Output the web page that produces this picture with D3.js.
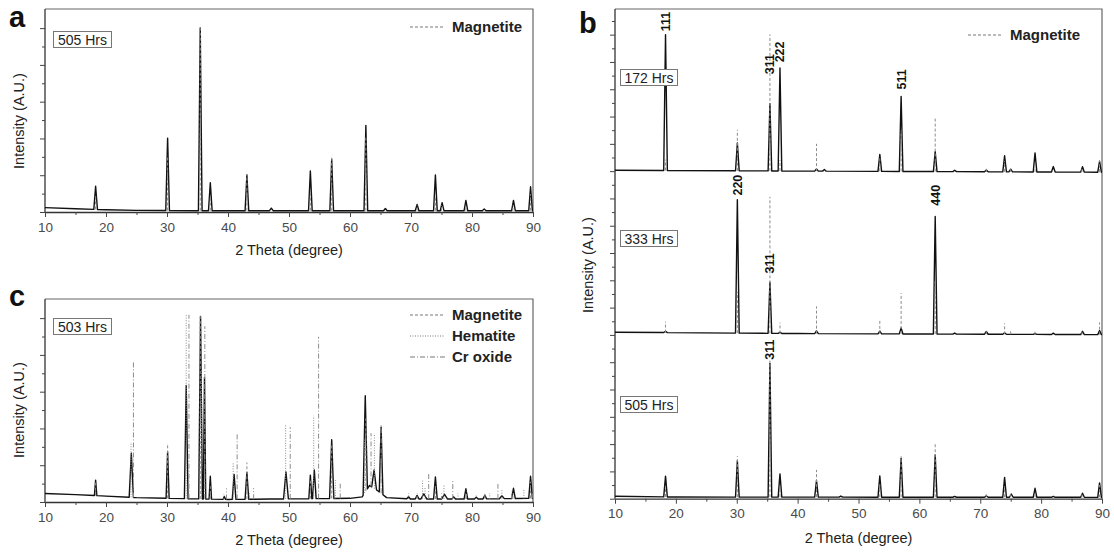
<!DOCTYPE html>
<html><head><meta charset="utf-8">
<script src="https://cdn.jsdelivr.net/npm/d3@7"></script>
<style>body{margin:0;background:#fff}svg text{font-family:"Liberation Sans",Arial,sans-serif}</style>
</head><body><svg id="chart" width="1114" height="552"></svg>
<script>
// ---------- shared ----------
const xTickValues = [10, 20, 30, 40, 50, 60, 70, 80, 90];
const xMinorValues = [15, 25, 35, 45, 55, 65, 75, 85];
const xTitle = "2 Theta (degree)";
const yTitle = "Intensity (A.U.)";

// reference patterns: [2theta, relative intensity %]
const magnetiteRef = [[18.3,8],[30.1,30],[35.45,100],[37.1,8],[43.1,20],[53.5,10],[57.0,30],[62.6,40],[71.0,3],[74.0,8],[75.0,3],[79.0,2],[86.7,3],[89.6,9]];
const hematiteRef = [[24.1,30],[33.15,100],[35.65,70],[39.3,3],[40.85,20],[43.5,4],[49.45,40],[54.05,45],[57.4,5],[57.6,10],[62.4,30],[64.0,30],[69.6,3],[71.9,10],[72.3,6],[75.4,8],[77.7,3],[80.7,2],[82.9,3],[84.9,5],[88.5,5]];
const crOxideRef = [[24.5,74],[33.6,100],[36.2,94],[39.75,6],[41.5,36],[44.2,6],[50.2,39],[54.85,88],[58.4,8],[63.45,29],[65.1,38],[72.9,14],[76.85,10],[79.1,4],[82.1,3],[84.25,8],[86.5,4],[89.95,6]];

// ---------- panel a : 505 Hrs ----------
const aBaseline = [[10,0.12],[15,0.09],[20,0.06],[25,0.045],[35,0.035],[90,0.035]];
const aPeaks = [[18.3,0.63],[30.1,1.97],[35.45,4.97],[37.1,0.76],[43.1,0.97],[47.1,0.07],[53.5,1.08],[57.0,1.40],[62.6,2.32],[65.8,0.06],[71.0,0.17],[74.0,0.97],[75.1,0.22],[79.0,0.28],[82.0,0.05],[86.8,0.28],[89.6,0.65]];

// ---------- panel b : 505 / 333 / 172 Hrs ----------
const bTraceNames = ["505 Hrs", "333 Hrs", "172 Hrs"];
const bOffsets = [0.05, 6.05, 11.98];
const b505Baseline = [[10,0.04],[20,0.01],[90,0]];
const b505Peaks = [[18.3,0.76],[30.1,1.33],[35.45,4.91],[37.1,0.85],[43.1,0.61],[47.1,0.04],[53.5,0.78],[57.0,1.43],[62.6,1.55],[65.8,0.03],[71.0,0.05],[74.0,0.73],[75.1,0.12],[79.0,0.33],[82.0,0.03],[86.8,0.15],[89.6,0.53]];
const b333Baseline = [[10,0.05],[40,0],[90,-0.04]];
const b333Peaks = [[18.3,0.05],[30.1,4.89],[35.45,1.87],[37.1,0.04],[43.1,0.1],[53.5,0.1],[57.0,0.22],[62.6,4.31],[65.8,0.04],[71.0,0.1],[74.0,0.05],[79.0,0.03],[82.0,0.05],[86.8,0.12],[89.6,0.15]];
const b172Baseline = [[10,0.05],[90,-0.02]];
const b172Peaks = [[18.3,4.98],[30.1,1.02],[35.45,2.46],[37.1,3.77],[43.1,0.08],[44.4,0.06],[53.5,0.62],[57.0,2.75],[62.6,0.73],[65.8,0.05],[71.0,0.06],[74.0,0.59],[75.0,0.1],[79.0,0.7],[82.0,0.2],[86.8,0.2],[89.6,0.4]];
// [trace index, hkl, 2theta, relative intensity at label foot]
const bPeakLabels = [[2,"111",18.3,5.1],[2,"311",35.45,3.54],[2,"222",37.1,3.98],[2,"511",57.0,3.0],[1,"220",30.15,5.04],[1,"311",35.45,2.19],[1,"440",62.6,4.7],[0,"311",35.45,5.03]];

// ---------- panel c : 503 Hrs ----------
const cBaseline = [[10,0.23],[15,0.2],[20,0.16],[25,0.12],[30,0.1],[40,0.07],[47,0.08],[60,0.1],[62.0,0.14],[63.2,0.45],[64.6,0.3],[66,0.12],[70,0.08],[80,0.08],[90,0.1]];
const cPeaks = [[18.3,0.42,0.2],[24.15,1.2,0.35],[30.1,1.26,0.25],[33.15,3.08,0.3],[35.5,4.96,0.3],[36.15,3.3,0.2],[37.1,0.62,0.2],[39.4,0.08,0.2],[41.0,0.68,0.3],[43.1,0.73,0.3],[49.5,0.73,0.4],[53.5,0.64,0.25],[54.15,0.78,0.3],[57.0,1.6,0.35],[62.5,2.62,0.35],[63.95,0.5,0.4],[65.1,1.8,0.3],[69.6,0.06,0.3],[71.0,0.1,0.3],[72.1,0.14,0.5],[74.0,0.6,0.3],[75.5,0.13,0.5],[77.0,0.06,0.3],[79.0,0.28,0.3],[80.7,0.05,0.3],[82.1,0.1,0.3],[84.9,0.08,0.4],[86.8,0.28,0.3],[89.6,0.6,0.3]];

// ---------- drawing ----------
const svg = d3.select("#chart");
const FONT = '"Liberation Sans", Arial, sans-serif';
const REF_SCALE = 5 / 100;
const refStyles = {
  magnetite: {dash: "3,2"},
  hematite: {dash: "1,1.5"},
  cr: {dash: "5,2,1,2"}
};

function makePanel(cfg) {
  const x = d3.scaleLinear().domain([10, 90]).range([cfg.left, cfg.right]);
  const y = d3.scaleLinear().domain([0, cfg.yMax]).range([cfg.bottom, cfg.top]);
  const g = svg.append("g");
  g.append("path")
    .attr("d", `M${cfg.left},${cfg.top}H${cfg.right}V${cfg.bottom}`)
    .attr("fill", "none").attr("stroke", "#666").attr("stroke-width", 1.2);
  const xa = g.append("g").attr("transform", `translate(0,${cfg.bottom})`)
    .call(d3.axisBottom(x).tickValues(xTickValues).tickSize(5).tickSizeOuter(0).tickPadding(5).tickFormat(d3.format("d")))
    .attr("font-family", FONT).attr("font-size", 13.5);
  xa.select(".domain").attr("stroke", "#333").attr("stroke-width", 1.3);
  xa.selectAll(".tick line").attr("stroke", "#444");
  xa.selectAll("text").attr("fill", "#4a4a4a");
  const xm = g.append("g").attr("transform", `translate(0,${cfg.bottom})`)
    .call(d3.axisBottom(x).tickValues(xMinorValues).tickSize(3).tickFormat(""));
  xm.select(".domain").remove();
  xm.selectAll(".tick line").attr("stroke", "#444");
  const ya = g.append("g").attr("transform", `translate(${cfg.left},0)`)
    .call(d3.axisLeft(y).tickValues(cfg.yMajor).tickSize(5).tickSizeOuter(0).tickFormat(""));
  ya.select(".domain").attr("stroke", "#333").attr("stroke-width", 1.3)
    .attr("d", `M0,${cfg.bottom}V${cfg.top}`);
  ya.selectAll(".tick line").attr("stroke", "#444");
  const ym = g.append("g").attr("transform", `translate(${cfg.left},0)`)
    .call(d3.axisLeft(y).tickValues(cfg.yMinor).tickSize(3).tickFormat(""));
  ym.select(".domain").remove();
  ym.selectAll(".tick line").attr("stroke", "#444");
  // titles
  g.append("text").attr("x", (cfg.left + cfg.right) / 2).attr("y", cfg.xTitleY)
    .attr("text-anchor", "middle").attr("font-size", 14.5).attr("fill", "#222").text(xTitle);
  g.append("text").attr("transform", `translate(${cfg.yTitleX},${cfg.yTitleCY}) rotate(-90)`)
    .attr("text-anchor", "middle").attr("dy", "0.35em").attr("font-size", 14.5).attr("fill", "#222").text(yTitle);
  g.append("text").attr("x", cfg.letterX).attr("y", cfg.letterY)
    .attr("font-size", 29).attr("font-weight", "bold").attr("fill", "#111").text(cfg.letter);
  return {x, y, g};
}

function tracePoints(baseline, peaks, offset, defW) {
  const bs = d3.scaleLinear().domain(baseline.map(d => d[0])).range(baseline.map(d => d[1]));
  const pts = [];
  baseline.forEach(([t, v]) => {
    if (!peaks.some(p => t > p[0] - (p[2] || defW) && t < p[0] + (p[2] || defW))) pts.push([t, v + offset]);
  });
  peaks.forEach(p => {
    const w = p[2] || defW;
    pts.push([p[0] - w, bs(p[0] - w) + offset], [p[0], bs(p[0]) + p[1] + offset], [p[0] + w, bs(p[0] + w) + offset]);
  });
  pts.sort((a, b) => a[0] - b[0]);
  return {pts, bs};
}

function drawTrace(P, baseline, peaks, offset, defW) {
  const {pts, bs} = tracePoints(baseline, peaks, offset, defW);
  P.g.append("path").datum(pts)
    .attr("d", d3.line().x(d => P.x(d[0])).y(d => P.y(d[1])))
    .attr("fill", "none").attr("stroke", "#111").attr("stroke-width", 1.4).attr("stroke-linejoin", "round");
  return bs;
}

function drawRefs(P, refs, bs, offset, style) {
  P.g.append("g").selectAll("line").data(refs).join("line")
    .attr("x1", d => P.x(d[0])).attr("x2", d => P.x(d[0]))
    .attr("y1", d => P.y(bs(d[0]) + offset))
    .attr("y2", d => P.y(bs(d[0]) + offset + d[1] * REF_SCALE))
    .attr("stroke", "#8c8c8c").attr("stroke-width", 1).attr("stroke-dasharray", style.dash);
}

function hrsBox(P, x0, y0, w, h, label) {
  P.g.append("rect").attr("x", x0 + 0.5).attr("y", y0 + 0.5).attr("width", w).attr("height", h)
    .attr("fill", "#fff").attr("stroke", "#777").attr("stroke-width", 1);
  P.g.append("text").attr("x", x0 + w / 2 + 0.5).attr("y", y0 + h / 2 + 1).attr("dy", "0.35em")
    .attr("text-anchor", "middle").attr("font-size", 14).attr("fill", "#222").text(label);
}

function legend(P, x0, items) {
  items.forEach(([name, style, yy]) => {
    P.g.append("line").attr("x1", x0).attr("x2", x0 + 35).attr("y1", yy).attr("y2", yy)
      .attr("stroke", "#777").attr("stroke-width", 1).attr("stroke-dasharray", style.dash);
    P.g.append("text").attr("x", x0 + 42).attr("y", yy).attr("dy", "0.35em")
      .attr("font-size", 15).attr("font-weight", "bold").attr("fill", "#222").text(name);
  });
}

const halfTicks = (n) => d3.range(0, n).map(i => i + 0.5);

// panel a
const A = makePanel({left: 45, right: 533, top: 9, bottom: 212, yMax: 5.52,
  yMajor: d3.range(0, 6), yMinor: halfTicks(5),
  xTitleY: 255, yTitleX: 19, yTitleCY: 121, letter: "a", letterX: 9, letterY: 27});
const aBs = drawTrace(A, aBaseline, aPeaks, 0, 0.3);
drawRefs(A, magnetiteRef, aBs, 0, refStyles.magnetite);
hrsBox(A, 53, 31, 58, 16, "505 Hrs");
legend(A, 410, [["Magnetite", refStyles.magnetite, 27]]);

// panel c
const C = makePanel({left: 45, right: 533, top: 299, bottom: 502, yMax: 5.52,
  yMajor: d3.range(0, 6), yMinor: halfTicks(5),
  xTitleY: 545, yTitleX: 19, yTitleCY: 410, letter: "c", letterX: 9, letterY: 306});
const cBs = drawTrace(C, cBaseline, cPeaks, 0, 0.3);
drawRefs(C, magnetiteRef, cBs, 0, refStyles.magnetite);
drawRefs(C, hematiteRef, cBs, 0, refStyles.hematite);
drawRefs(C, crOxideRef, cBs, 0, refStyles.cr);
hrsBox(C, 53, 318, 58, 16, "503 Hrs");
legend(C, 410, [["Magnetite", refStyles.magnetite, 315], ["Hematite", refStyles.hematite, 336], ["Cr oxide", refStyles.cr, 357]]);

// panel b
const B = makePanel({left: 615, right: 1102, top: 9, bottom: 498.7, yMax: 17.94,
  yMajor: d3.range(0, 18), yMinor: halfTicks(18),
  xTitleY: 543, yTitleX: 588, yTitleCY: 265, letter: "b", letterX: 579, letterY: 33});
const bData = [[b505Baseline, b505Peaks], [b333Baseline, b333Peaks], [b172Baseline, b172Peaks]];
const bBs = bData.map(([bl, pk], i) => {
  const bs = drawTrace(B, bl, pk, bOffsets[i], 0.3);
  drawRefs(B, magnetiteRef, bs, bOffsets[i], refStyles.magnetite);
  return bs;
});
bPeakLabels.forEach(([ti, txt, t, v]) => {
  const px = B.x(t), py = B.y(bOffsets[ti] + bBs[ti](t) + v);
  B.g.append("text").attr("transform", `translate(${px},${py}) rotate(-90)`)
    .attr("dy", "0.36em").attr("font-size", 12.5).attr("font-weight", "bold").attr("fill", "#111").text(txt);
});
hrsBox(B, 620, 69, 57, 16, bTraceNames[2]);
hrsBox(B, 620, 230, 57, 16, bTraceNames[1]);
hrsBox(B, 620, 396, 57, 16, bTraceNames[0]);
legend(B, 968, [["Magnetite", refStyles.magnetite, 35]]);
</script></body></html>
